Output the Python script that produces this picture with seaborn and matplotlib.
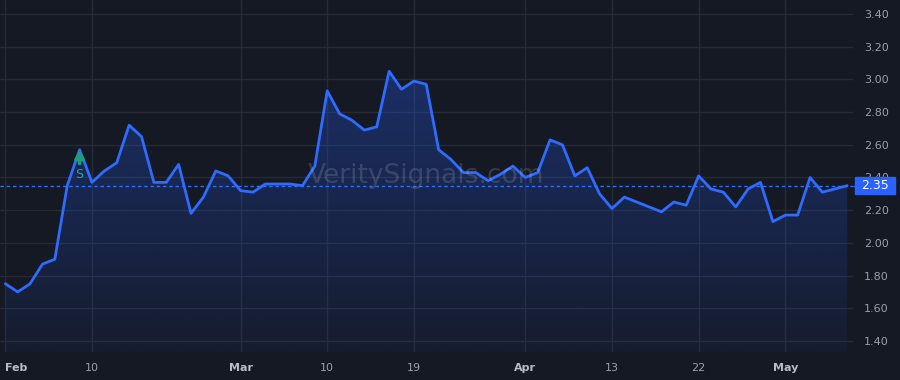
import numpy as np
import pandas as pd
import matplotlib
matplotlib.use("Agg")
import matplotlib.pyplot as plt
import matplotlib.transforms as mtransforms
import seaborn as sns

# price series (one point per session)
prices = [1.75, 1.70, 1.75, 1.87, 1.90, 2.35, 2.57, 2.37, 2.44, 2.49,
          2.72, 2.65, 2.37, 2.37, 2.48, 2.18, 2.28, 2.44, 2.41, 2.32,
          2.31, 2.36, 2.36, 2.36, 2.35, 2.47, 2.93, 2.79, 2.75, 2.69,
          2.71, 3.05, 2.94, 2.99, 2.97, 2.57, 2.51, 2.43, 2.43, 2.38,
          2.42, 2.47, 2.40, 2.43, 2.63, 2.60, 2.41, 2.46, 2.30, 2.21,
          2.28, 2.25, 2.22, 2.19, 2.25, 2.23, 2.41, 2.33, 2.31, 2.22,
          2.33, 2.37, 2.13, 2.17, 2.17, 2.40, 2.31, 2.33, 2.35]
tick_idx = [0, 7, 19, 26, 33, 42, 49, 56, 63]
tick_labels = ["Feb", "10", "Mar", "10", "19", "Apr", "13", "22", "May"]
month_labels = ["Feb", "Mar", "Apr", "May"]
y_ticks = [1.40, 1.60, 1.80, 2.00, 2.20, 2.40, 2.60, 2.80, 3.00, 3.20, 3.40]
last_price = 2.35
signal_idx = 6
watermark = "VeritySignals.com"

BG = "#151924"
GRID = "#252a36"
LINE = "#2f6bff"
TXT = "#9aa0ab"

df = pd.DataFrame({"i": np.arange(len(prices)), "price": prices})

sns.set_theme(style="dark")
plt.rcParams["font.family"] = ["DejaVu Sans"]

fig = plt.figure(figsize=(9, 3.8), dpi=100, facecolor=BG)
ax = fig.add_axes([0, 0.074, 853 / 900, 0.926])
ax.set_facecolor(BG)

ymin, ymax = 1.333, 3.486
xmin, xmax = -0.43, 68.47

# gradient fill under the line
grad = np.linspace(0.05, 0.30, 256).reshape(-1, 1)
rgba = np.zeros((256, 1, 4))
rgba[..., :3] = matplotlib.colors.to_rgb("#2962ff")
rgba[..., 3] = grad
top = max(prices)
im = ax.imshow(rgba, extent=[xmin, xmax, ymin, top], origin="lower",
               aspect="auto", zorder=1)
poly = ax.fill_between(df["i"], df["price"], ymin, color="none", lw=0)
im.set_clip_path(poly.get_paths()[0], transform=ax.transData)

sns.lineplot(data=df, x="i", y="price", ax=ax, color=LINE, lw=2, zorder=3)
ax.set_xlim(xmin, xmax)
ax.set_ylim(ymin, ymax)

# grid
for t in y_ticks:
    ax.axhline(t, color=GRID, lw=1, zorder=0)
for t in tick_idx:
    ax.axvline(t, color=GRID, lw=1, zorder=0)

# last price line
ax.axhline(last_price, color=LINE, lw=1, ls=(0, (2.5, 2)), zorder=2)

# watermark
ax.text(0.5, 0.5, watermark, transform=ax.transAxes, ha="center", va="center",
        fontsize=19, color="#ffffff", alpha=0.14, zorder=4)

# signal marker
peak = prices[signal_idx]
ax.annotate("", xy=(signal_idx, peak - 0.005),
            xytext=(signal_idx, peak - 0.085),
            arrowprops=dict(arrowstyle="-|>,head_width=0.22,head_length=0.35",
                            color="#1f9d78", lw=2.5, shrinkA=0, shrinkB=0),
            zorder=5)
ax.text(signal_idx, peak - 0.15, "S", ha="center", va="center",
        fontsize=9, color="#26a69a", zorder=5)

# axes styling
ax.set_xticks(tick_idx)
ax.set_xticklabels(tick_labels)
for lab in ax.get_xticklabels():
    lab.set_color(TXT)
    if lab.get_text() in month_labels:
        lab.set_fontweight("bold")
        lab.set_color("#b8bcc6")
first = ax.get_xticklabels()[0]
first.set_horizontalalignment("left")
first.set_transform(first.get_transform() +
                    mtransforms.ScaledTranslation(-5 / 100, 0, fig.dpi_scale_trans))
ax.tick_params(axis="x", length=0, labelsize=8, pad=8)
ax.yaxis.tick_right()
ax.set_yticks(y_ticks)
ax.set_yticklabels([f"{t:.2f}" for t in y_ticks])
ax.tick_params(axis="y", length=0, labelsize=8, pad=8, labelcolor=TXT)
for lab in ax.get_yticklabels():
    lab.set_horizontalalignment("left")
ax.set_xlabel("")
ax.set_ylabel("")
for s in ax.spines.values():
    s.set_visible(False)
ax.grid(False)

# dashed line runs on into the price scale, then the price tag
fig.add_artist(plt.Line2D([853 / 900, 855 / 900],
                          [1 - 185.5 / 380, 1 - 185.5 / 380],
                          color=LINE, lw=1, ls=(0, (2.5, 2))))
fig.add_artist(plt.Rectangle((855 / 900, 1 - 194 / 380), 40 / 900, 17 / 380,
                             transform=fig.transFigure, color="#2962ff",
                             zorder=10))
fig.text(875 / 900, 1 - 185.5 / 380, f"{last_price:.2f}", ha="center",
         va="center", fontsize=9, color="white", zorder=11)

fig.savefig("out.png", dpi=100, facecolor=BG)
